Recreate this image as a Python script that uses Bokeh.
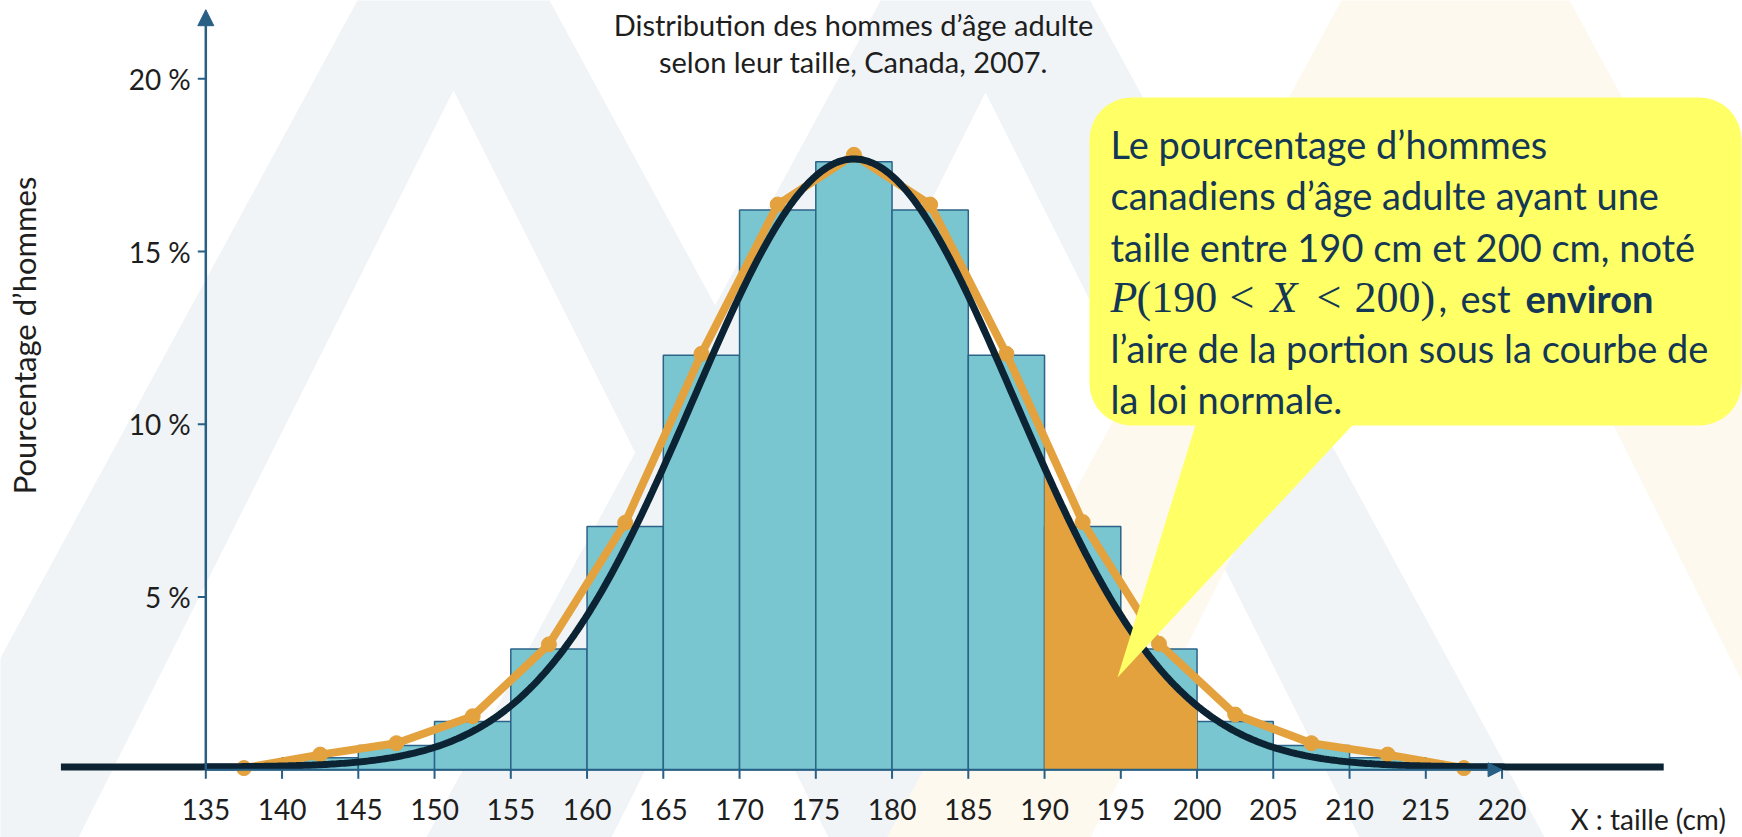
import numpy as np
from bokeh.plotting import figure
from bokeh.models import (Range1d, Label, BoxAnnotation, PolyAnnotation, Arrow,
                          NormalHead, ColumnDataSource)
from bokeh.core.properties import value
from bokeh.embed import file_html
from bokeh.resources import INLINE

# ---------------- data ----------------
BIN_LEFT = [135, 140, 145, 150, 155, 160, 165, 170, 175, 180, 185, 190, 195, 200, 205, 210, 215]
BIN_WIDTH = 5
BAR_PCT = [0.15, 0.35, 0.7, 1.4, 3.5, 7.04, 12.0, 16.2, 17.6, 16.2, 12.0, 7.04, 3.5, 1.4, 0.7, 0.35, 0.15]

POLY_X = [137.5, 142.5, 147.5, 152.5, 157.5, 162.5, 167.5, 172.5, 177.5,
          182.5, 187.5, 192.5, 197.5, 202.5, 207.5, 212.5, 217.5]
POLY_PCT = [0.05, 0.44, 0.77, 1.55, 3.63, 7.15, 12.04, 16.36, 17.8,
            16.36, 12.04, 7.17, 3.65, 1.6, 0.77, 0.44, 0.05]

# normal law drawn over the histogram
MU, SIGMA, PEAK, CURVE_BASE = 177.5, 10.5, 17.6, 0.08
CURVE_FROM, CURVE_TO = 125.5, 230.6
SHADE_FROM, SHADE_TO = 190, 200

X_TICKS = [135, 140, 145, 150, 155, 160, 165, 170, 175, 180, 185, 190, 195, 200, 205, 210, 215, 220]
X_TICK_LABELS = [str(t) for t in X_TICKS]
Y_TICKS = [5, 10, 15, 20]
Y_TICK_LABELS = ["5 %", "10 %", "15 %", "20 %"]
X_AXIS_END = 220
Y_AXIS_END = 22.0

TITLE_1 = "Distribution des hommes d\u2019\u00e2ge adulte"
TITLE_2 = "selon leur taille, Canada, 2007."
Y_TITLE = "Pourcentage d\u2019hommes"
X_TITLE = "X : taille (cm)"

# ---------------- styles ----------------
TEAL = "#79C5D0"
BAR_LINE = "#2D6388"
ORANGE = "#E3A23E"
CURVE = "#0B2333"
AXIS = "#275F85"
TXT = "#1E1E1E"
NAVY = "#133754"
YELLOW = "#FFFF66"
WM_GRAY = "#F1F4F6"
WM_BEIGE = "#FEF9EF"
FONT = "Lato"
SERIF = "Liberation Serif"

W, H = 1742, 837
PX_PER_X = 15.25     # px per cm
PX_PER_Y = 34.55     # px per %
X0_PX, Y0_PX = 205.3, 769.3   # position of (135, 0) in the canvas

x_start = 135 - X0_PX / PX_PER_X
y_end = Y0_PX / PX_PER_Y
p = figure(width=W, height=H, output_backend="svg", toolbar_location=None,
           x_axis_location=None, y_axis_location=None, min_border=0,
           x_range=Range1d(x_start, x_start + W / PX_PER_X),
           y_range=Range1d(y_end - H / PX_PER_Y, y_end))
p.outline_line_color = None
p.background_fill_color = "white"
p.grid.visible = False


def sx(px):
    return px


def sy(py):
    return H - py


# ---------------- watermark (decoration) ----------------
def chevron(cx, apex_out, apex_in, color):
    bottom = 837
    xs = [cx - 0.543 * (bottom - apex_out), cx, cx + 0.543 * (bottom - apex_out),
          cx + 0.502 * (bottom - apex_in), cx, cx - 0.502 * (bottom - apex_in)]
    ys = [bottom, apex_out, bottom, bottom, apex_in, bottom]
    p.add_layout(PolyAnnotation(xs=[sx(v) for v in xs], ys=[sy(v) for v in ys],
                                xs_units="screen", ys_units="screen",
                                fill_color=color, fill_alpha=1.0, line_color=None,
                                level="underlay"))


chevron(453, -177, 90, WM_GRAY)
chevron(985, -193, 92, WM_GRAY)
chevron(1455, -210, 110, WM_BEIGE)

# ---------------- histogram ----------------
bars = ColumnDataSource(dict(left=BIN_LEFT, right=[b + BIN_WIDTH for b in BIN_LEFT], top=BAR_PCT))
p.quad(left="left", right="right", bottom=0, top="top", source=bars,
       fill_color=TEAL, line_color=BAR_LINE, line_width=1.5)

# ---------------- normal curve & shaded area ----------------
def normal(x):
    return CURVE_BASE + PEAK * np.exp(-((x - MU) ** 2) / (2 * SIGMA ** 2))


xs_shade = np.linspace(SHADE_FROM, SHADE_TO, 200)
p.varea(x=xs_shade, y1=0, y2=normal(xs_shade), fill_color=ORANGE)

# ---------------- axes (drawn at the data origin) ----------------
p.add_layout(Arrow(end=NormalHead(size=14, fill_color=AXIS, line_color=AXIS),
                   x_start=135, y_start=0, x_end=X_AXIS_END, y_end=0,
                   line_color=AXIS, line_width=2))
p.add_layout(Arrow(end=NormalHead(size=16, fill_color=AXIS, line_color=AXIS),
                   x_start=135, y_start=0, x_end=135, y_end=Y_AXIS_END,
                   line_color=AXIS, line_width=2.5))

tick_dy = 9 / PX_PER_Y
p.segment(x0=X_TICKS, y0=[0] * len(X_TICKS), x1=X_TICKS, y1=[-tick_dy] * len(X_TICKS),
          line_color=AXIS, line_width=2)
tick_dx = 8 / PX_PER_X
p.segment(x0=[135 - tick_dx] * len(Y_TICKS), y0=Y_TICKS, x1=[135] * len(Y_TICKS), y1=Y_TICKS,
          line_color=AXIS, line_width=2)

p.text(x=X_TICKS, y=[0] * len(X_TICKS), text=X_TICK_LABELS, y_offset=40,
       text_align="center", text_baseline="middle", text_color=TXT,
       text_font=value(FONT), text_font_size=value("28px"))
p.text(x=[135] * len(Y_TICKS), y=Y_TICKS, text=Y_TICK_LABELS, x_offset=-15,
       text_align="right", text_baseline="middle", text_color=TXT,
       text_font=value(FONT), text_font_size=value("28px"))

# ---------------- frequency polygon ----------------
p.line(x=POLY_X, y=POLY_PCT, line_color=ORANGE, line_width=8, line_join="round")
p.scatter(x=POLY_X, y=POLY_PCT, size=15, fill_color=ORANGE, line_color=ORANGE)

xs_curve = np.linspace(CURVE_FROM, CURVE_TO, 600)
p.line(x=xs_curve, y=normal(xs_curve), line_color=CURVE, line_width=7)

# ---------------- titles ----------------
p.add_layout(Label(x=sx(853), y=sy(24), x_units="screen", y_units="screen", text=TITLE_1,
                   text_align="center", text_baseline="middle", text_font=FONT,
                   text_font_size="29px", text_color=TXT))
p.add_layout(Label(x=sx(853), y=sy(61), x_units="screen", y_units="screen", text=TITLE_2,
                   text_align="center", text_baseline="middle", text_font=FONT,
                   text_font_size="29px", text_color=TXT))
p.add_layout(Label(x=sx(23), y=sy(335), x_units="screen", y_units="screen", text=Y_TITLE,
                   angle=np.pi / 2, text_align="center", text_baseline="middle",
                   text_font=FONT, text_font_size="31px", text_color=TXT))
p.add_layout(Label(x=sx(1570), y=sy(818), x_units="screen", y_units="screen", text=X_TITLE,
                   text_align="left", text_baseline="middle", text_font=FONT,
                   text_font_size="28px", text_color=TXT))

# ---------------- callout ----------------
p.add_layout(BoxAnnotation(left=sx(1089), right=sx(1741), top=sy(97), bottom=sy(425),
                           left_units="screen", right_units="screen",
                           top_units="screen", bottom_units="screen",
                           fill_color=YELLOW, fill_alpha=1.0, line_color=None,
                           border_radius=42))
p.add_layout(PolyAnnotation(xs=[sx(1198), sx(1361), sx(1117)], ys=[sy(415), sy(415), sy(677)],
                            xs_units="screen", ys_units="screen",
                            fill_color=YELLOW, fill_alpha=1.0, line_color=None))

CALLOUT_LINES = [
    "Le pourcentage d\u2019hommes",
    "canadiens d\u2019\u00e2ge adulte ayant une",
    "taille entre 190 cm et 200 cm, not\u00e9",
    None,
    "l\u2019aire de la portion sous la courbe de",
    "la loi normale.",
]
BASELINES = [143, 194, 246, 297, 347, 398]
for line, base in zip(CALLOUT_LINES, BASELINES):
    if line is None:
        continue
    p.add_layout(Label(x=sx(1110), y=sy(base), x_units="screen", y_units="screen", text=line,
                       text_align="left", text_baseline="alphabetic", text_font=FONT,
                       text_font_size="38px", text_color=NAVY))

# line 4 : P(190 < X < 200), est environ
pieces = [
    ("P", 1110, SERIF, "italic", "44px"),
    ("(190", 1136, SERIF, "normal", "44px"),
    ("<", 1229, SERIF, "normal", "44px"),
    ("X", 1270, SERIF, "italic", "44px"),
    ("<", 1316, SERIF, "normal", "44px"),
    ("200)", 1354, SERIF, "normal", "44px"),
    (",", 1438, FONT, "normal", "38px"),
    ("est", 1460, FONT, "normal", "38px"),
    ("environ", 1525, FONT, "bold", "38px"),
]
for txt, px, font, style, size in pieces:
    p.add_layout(Label(x=sx(px), y=sy(297), x_units="screen", y_units="screen", text=txt,
                       text_align="left", text_baseline="alphabetic", text_font=font,
                       text_font_style=style, text_font_size=size, text_color=NAVY))

open("out.html", "w").write(file_html(p, INLINE))
